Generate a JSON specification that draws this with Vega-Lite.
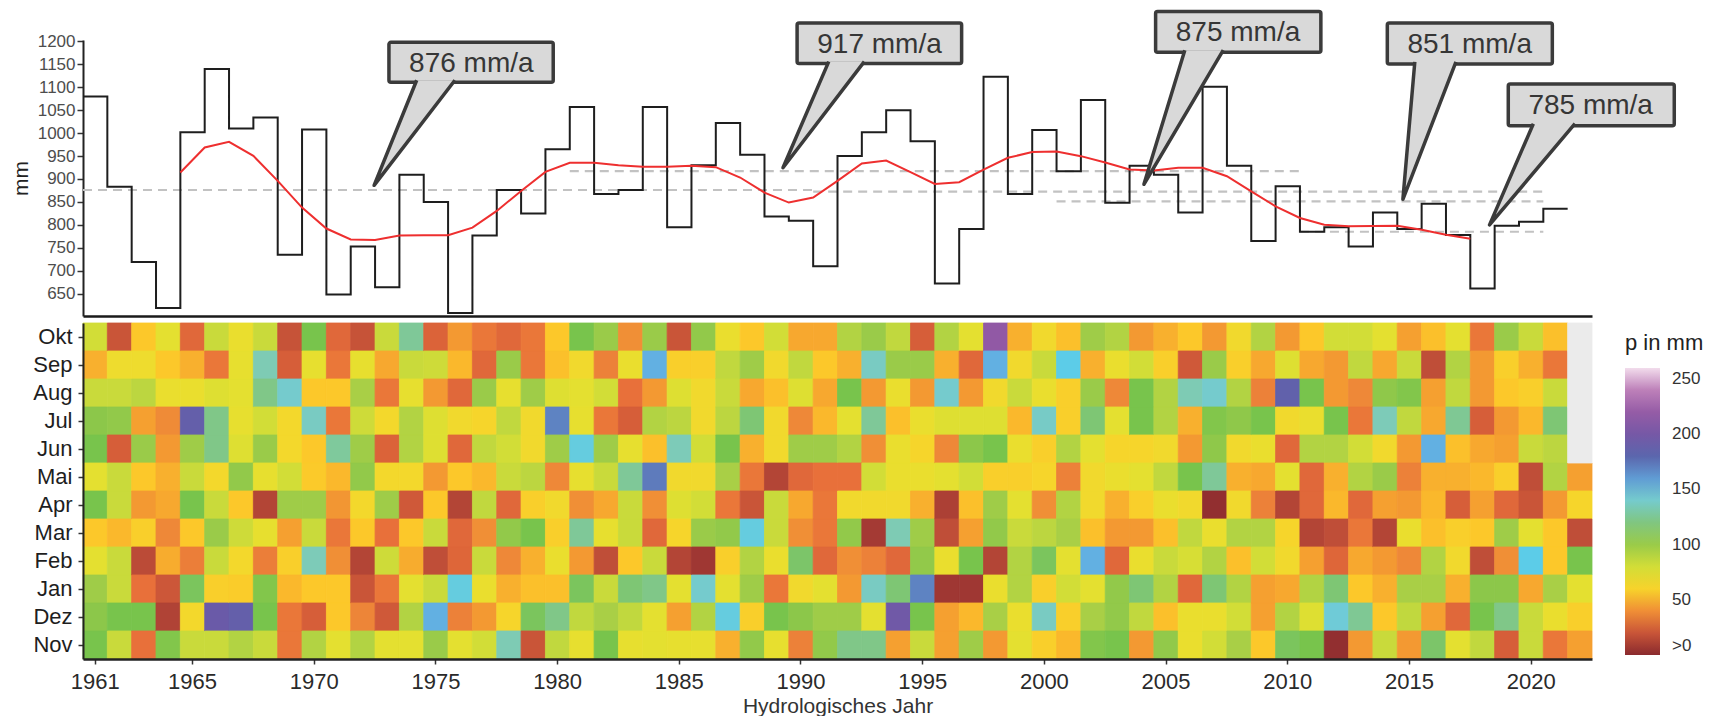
{
  "$schema": "https://vega.github.io/schema/vega-lite/v6.json",
  "background": "white",
  "padding": {"left": 10, "top": 9, "right": 5, "bottom": 0},
  "config": {
    "font": "Liberation Sans",
    "view": {"stroke": null},
    "axis": {"grid": false, "labelFont": "Liberation Sans", "titleFont": "Liberation Sans", "labelOverlap": false},
    "axisQuantitative": {"labelOverlap": false},
    "legend": {"labelFont": "Liberation Sans", "titleFont": "Liberation Sans"}
  },
  "datasets": {
    "jahr": [
      {"jahr":1961,"p":1080},{"jahr":1962,"p":883},{"jahr":1963,"p":719},{"jahr":1964,"p":619},{"jahr":1965,"p":1002},
      {"jahr":1966,"p":1140},{"jahr":1967,"p":1010},{"jahr":1968,"p":1034},{"jahr":1969,"p":735},{"jahr":1970,"p":1008},
      {"jahr":1971,"p":648},{"jahr":1972,"p":753},{"jahr":1973,"p":664},{"jahr":1974,"p":909},{"jahr":1975,"p":850},
      {"jahr":1976,"p":608},{"jahr":1977,"p":777},{"jahr":1978,"p":876},{"jahr":1979,"p":825},{"jahr":1980,"p":965},
      {"jahr":1981,"p":1057},{"jahr":1982,"p":867},{"jahr":1983,"p":876},{"jahr":1984,"p":1057},{"jahr":1985,"p":795},
      {"jahr":1986,"p":930},{"jahr":1987,"p":1022},{"jahr":1988,"p":953},{"jahr":1989,"p":818},{"jahr":1990,"p":809},
      {"jahr":1991,"p":710},{"jahr":1992,"p":950},{"jahr":1993,"p":1002},{"jahr":1994,"p":1050},{"jahr":1995,"p":982},
      {"jahr":1996,"p":672},{"jahr":1997,"p":791},{"jahr":1998,"p":1123},{"jahr":1999,"p":867},{"jahr":2000,"p":1007},
      {"jahr":2001,"p":917},{"jahr":2002,"p":1072},{"jahr":2003,"p":848},{"jahr":2004,"p":929},{"jahr":2005,"p":909},
      {"jahr":2006,"p":827},{"jahr":2007,"p":1101},{"jahr":2008,"p":929},{"jahr":2009,"p":765},{"jahr":2010,"p":884},
      {"jahr":2011,"p":785},{"jahr":2012,"p":795},{"jahr":2013,"p":753},{"jahr":2014,"p":827},{"jahr":2015,"p":791},
      {"jahr":2016,"p":846},{"jahr":2017,"p":778},{"jahr":2018,"p":661},{"jahr":2019,"p":798},{"jahr":2020,"p":807},
      {"jahr":2021,"p":835},{"jahr":2022,"p":835}
    ],
    "glatt": [
      {"jahr":1965,"p":914},{"jahr":1966,"p":968.6},{"jahr":1967,"p":981},{"jahr":1968,"p":950.5},{"jahr":1969,"p":896},
      {"jahr":1970,"p":837.7},{"jahr":1971,"p":792},{"jahr":1972,"p":768},{"jahr":1973,"p":767},{"jahr":1974,"p":776.6},
      {"jahr":1975,"p":777.3},{"jahr":1976,"p":777.3},{"jahr":1977,"p":794},{"jahr":1978,"p":830.4},{"jahr":1979,"p":874},
      {"jahr":1980,"p":915.5},{"jahr":1981,"p":935.2},{"jahr":1982,"p":935.2},{"jahr":1983,"p":930},{"jahr":1984,"p":926.5},
      {"jahr":1985,"p":926.5},{"jahr":1986,"p":928.6},{"jahr":1987,"p":925.7},{"jahr":1988,"p":903.2},{"jahr":1989,"p":870.4},
      {"jahr":1990,"p":848.6},{"jahr":1991,"p":859.5},{"jahr":1992,"p":896},{"jahr":1993,"p":933.8},{"jahr":1994,"p":940.3},
      {"jahr":1995,"p":914.8},{"jahr":1996,"p":889.3},{"jahr":1997,"p":892.9},{"jahr":1998,"p":920.6},{"jahr":1999,"p":946.2},
      {"jahr":2000,"p":958.6},{"jahr":2001,"p":960},{"jahr":2002,"p":949.8},{"jahr":2003,"p":936},{"jahr":2004,"p":920.6},
      {"jahr":2005,"p":918.5},{"jahr":2006,"p":924.3},{"jahr":2007,"p":924.3},{"jahr":2008,"p":906},{"jahr":2009,"p":873.2},
      {"jahr":2010,"p":840.4},{"jahr":2011,"p":814.9},{"jahr":2012,"p":800.3},{"jahr":2013,"p":796.7},{"jahr":2014,"p":797.4},
      {"jahr":2015,"p":798.1},{"jahr":2016,"p":789.4},{"jahr":2017,"p":778.4},{"jahr":2018,"p":769.7}
    ],
    "perioden": [
      {"von":1961,"bis":1991,"mittel":876},
      {"von":1981,"bis":2011,"mittel":917},
      {"von":1991,"bis":2021,"mittel":872.5},
      {"von":2001,"bis":2021,"mittel":851},
      {"von":2011,"bis":2021,"mittel":785}
    ],
    "boxen": [
      {"label":"876 mm/a","x1":1973.57,"x2":1980.32,"oben":1198.0,"unten":1110.9},
      {"label":"917 mm/a","x1":1990.34,"x2":1997.10,"oben":1240.2,"unten":1151.5},
      {"label":"875 mm/a","x1":2005.07,"x2":2011.86,"oben":1265.1,"unten":1176.4},
      {"label":"851 mm/a","x1":2014.59,"x2":2021.37,"oben":1240.2,"unten":1150.9},
      {"label":"785 mm/a","x1":2019.56,"x2":2026.38,"oben":1107.0,"unten":1016.2}
    ],
    "zeiger": [
      {"id":1,"k":0,"x":1974.71,"y":1115.3},{"id":1,"k":1,"x":1972.96,"y":886.2},{"id":1,"k":2,"x":1976.28,"y":1115.3},
      {"id":2,"k":0,"x":1991.64,"y":1155.9},{"id":2,"k":1,"x":1989.76,"y":924.5},{"id":2,"k":2,"x":1993.10,"y":1155.9},
      {"id":3,"k":0,"x":2006.27,"y":1180.8},{"id":3,"k":1,"x":2004.59,"y":888.4},{"id":3,"k":2,"x":2007.85,"y":1180.8},
      {"id":4,"k":0,"x":2015.72,"y":1155.2},{"id":4,"k":1,"x":2015.23,"y":855.7},{"id":4,"k":2,"x":2017.41,"y":1155.2},
      {"id":5,"k":0,"x":2020.59,"y":1020.5},{"id":5,"k":1,"x":2018.79,"y":800.0},{"id":5,"k":2,"x":2022.30,"y":1020.5}
    ],
    "fehlend": [
      {"jahr":2022,"monat":"Okt"},{"jahr":2022,"monat":"Sep"},{"jahr":2022,"monat":"Aug"},{"jahr":2022,"monat":"Jul"},{"jahr":2022,"monat":"Jun"}
    ],
    "monat": [
{"jahr":1961,"monat":"Okt","p":80},{"jahr":1961,"monat":"Sep","p":49},{"jahr":1961,"monat":"Aug","p":84},{"jahr":1961,"monat":"Jul","p":105},{"jahr":1961,"monat":"Jun","p":111},{"jahr":1961,"monat":"Mai","p":72},{"jahr":1961,"monat":"Apr","p":111},{"jahr":1961,"monat":"Mar","p":55},{"jahr":1961,"monat":"Feb","p":72},{"jahr":1961,"monat":"Jan","p":98},{"jahr":1961,"monat":"Dez","p":105},{"jahr":1961,"monat":"Nov","p":111},
{"jahr":1962,"monat":"Okt","p":20},{"jahr":1962,"monat":"Sep","p":66},{"jahr":1962,"monat":"Aug","p":84},{"jahr":1962,"monat":"Jul","p":103},{"jahr":1962,"monat":"Jun","p":24},{"jahr":1962,"monat":"Mai","p":84},{"jahr":1962,"monat":"Apr","p":84},{"jahr":1962,"monat":"Mar","p":51},{"jahr":1962,"monat":"Feb","p":84},{"jahr":1962,"monat":"Jan","p":84},{"jahr":1962,"monat":"Dez","p":111},{"jahr":1962,"monat":"Nov","p":84},
{"jahr":1963,"monat":"Okt","p":55},{"jahr":1963,"monat":"Sep","p":66},{"jahr":1963,"monat":"Aug","p":89},{"jahr":1963,"monat":"Jul","p":45},{"jahr":1963,"monat":"Jun","p":100},{"jahr":1963,"monat":"Mai","p":55},{"jahr":1963,"monat":"Apr","p":43},{"jahr":1963,"monat":"Mar","p":58},{"jahr":1963,"monat":"Feb","p":16},{"jahr":1963,"monat":"Jan","p":31},{"jahr":1963,"monat":"Dez","p":111},{"jahr":1963,"monat":"Nov","p":31},
{"jahr":1964,"monat":"Okt","p":72},{"jahr":1964,"monat":"Sep","p":55},{"jahr":1964,"monat":"Aug","p":68},{"jahr":1964,"monat":"Jul","p":39},{"jahr":1964,"monat":"Jun","p":43},{"jahr":1964,"monat":"Mai","p":49},{"jahr":1964,"monat":"Apr","p":47},{"jahr":1964,"monat":"Mar","p":38},{"jahr":1964,"monat":"Feb","p":48},{"jahr":1964,"monat":"Jan","p":21},{"jahr":1964,"monat":"Dez","p":13},{"jahr":1964,"monat":"Nov","p":108},
{"jahr":1965,"monat":"Okt","p":28},{"jahr":1965,"monat":"Sep","p":49},{"jahr":1965,"monat":"Aug","p":68},{"jahr":1965,"monat":"Jul","p":187},{"jahr":1965,"monat":"Jun","p":98},{"jahr":1965,"monat":"Mai","p":84},{"jahr":1965,"monat":"Apr","p":111},{"jahr":1965,"monat":"Mar","p":55},{"jahr":1965,"monat":"Feb","p":35},{"jahr":1965,"monat":"Jan","p":114},{"jahr":1965,"monat":"Dez","p":63},{"jahr":1965,"monat":"Nov","p":84},
{"jahr":1966,"monat":"Okt","p":84},{"jahr":1966,"monat":"Sep","p":33},{"jahr":1966,"monat":"Aug","p":75},{"jahr":1966,"monat":"Jul","p":122},{"jahr":1966,"monat":"Jun","p":122},{"jahr":1966,"monat":"Mai","p":63},{"jahr":1966,"monat":"Apr","p":84},{"jahr":1966,"monat":"Mar","p":100},{"jahr":1966,"monat":"Feb","p":84},{"jahr":1966,"monat":"Jan","p":58},{"jahr":1966,"monat":"Dez","p":192},{"jahr":1966,"monat":"Nov","p":84},
{"jahr":1967,"monat":"Okt","p":68},{"jahr":1967,"monat":"Sep","p":70},{"jahr":1967,"monat":"Aug","p":72},{"jahr":1967,"monat":"Jul","p":70},{"jahr":1967,"monat":"Jun","p":75},{"jahr":1967,"monat":"Mai","p":103},{"jahr":1967,"monat":"Apr","p":55},{"jahr":1967,"monat":"Mar","p":82},{"jahr":1967,"monat":"Feb","p":63},{"jahr":1967,"monat":"Jan","p":57},{"jahr":1967,"monat":"Dez","p":187},{"jahr":1967,"monat":"Nov","p":92},
{"jahr":1968,"monat":"Okt","p":84},{"jahr":1968,"monat":"Sep","p":133},{"jahr":1968,"monat":"Aug","p":122},{"jahr":1968,"monat":"Jul","p":80},{"jahr":1968,"monat":"Jun","p":100},{"jahr":1968,"monat":"Mai","p":70},{"jahr":1968,"monat":"Apr","p":14},{"jahr":1968,"monat":"Mar","p":70},{"jahr":1968,"monat":"Feb","p":35},{"jahr":1968,"monat":"Jan","p":108},{"jahr":1968,"monat":"Dez","p":111},{"jahr":1968,"monat":"Nov","p":84},
{"jahr":1969,"monat":"Okt","p":19},{"jahr":1969,"monat":"Sep","p":24},{"jahr":1969,"monat":"Aug","p":140},{"jahr":1969,"monat":"Jul","p":63},{"jahr":1969,"monat":"Jun","p":63},{"jahr":1969,"monat":"Mai","p":80},{"jahr":1969,"monat":"Apr","p":98},{"jahr":1969,"monat":"Mar","p":45},{"jahr":1969,"monat":"Feb","p":58},{"jahr":1969,"monat":"Jan","p":51},{"jahr":1969,"monat":"Dez","p":33},{"jahr":1969,"monat":"Nov","p":33},
{"jahr":1970,"monat":"Okt","p":111},{"jahr":1970,"monat":"Sep","p":70},{"jahr":1970,"monat":"Aug","p":55},{"jahr":1970,"monat":"Jul","p":137},{"jahr":1970,"monat":"Jun","p":55},{"jahr":1970,"monat":"Mai","p":56},{"jahr":1970,"monat":"Apr","p":98},{"jahr":1970,"monat":"Mar","p":84},{"jahr":1970,"monat":"Feb","p":134},{"jahr":1970,"monat":"Jan","p":55},{"jahr":1970,"monat":"Dez","p":24},{"jahr":1970,"monat":"Nov","p":92},
{"jahr":1971,"monat":"Okt","p":28},{"jahr":1971,"monat":"Sep","p":33},{"jahr":1971,"monat":"Aug","p":55},{"jahr":1971,"monat":"Jul","p":33},{"jahr":1971,"monat":"Jun","p":127},{"jahr":1971,"monat":"Mai","p":51},{"jahr":1971,"monat":"Apr","p":42},{"jahr":1971,"monat":"Mar","p":33},{"jahr":1971,"monat":"Feb","p":40},{"jahr":1971,"monat":"Jan","p":55},{"jahr":1971,"monat":"Dez","p":55},{"jahr":1971,"monat":"Nov","p":72},
{"jahr":1972,"monat":"Okt","p":19},{"jahr":1972,"monat":"Sep","p":70},{"jahr":1972,"monat":"Aug","p":95},{"jahr":1972,"monat":"Jul","p":82},{"jahr":1972,"monat":"Jun","p":98},{"jahr":1972,"monat":"Mai","p":103},{"jahr":1972,"monat":"Apr","p":63},{"jahr":1972,"monat":"Mar","p":55},{"jahr":1972,"monat":"Feb","p":14},{"jahr":1972,"monat":"Jan","p":20},{"jahr":1972,"monat":"Dez","p":37},{"jahr":1972,"monat":"Nov","p":92},
{"jahr":1973,"monat":"Okt","p":84},{"jahr":1973,"monat":"Sep","p":47},{"jahr":1973,"monat":"Aug","p":33},{"jahr":1973,"monat":"Jul","p":63},{"jahr":1973,"monat":"Jun","p":26},{"jahr":1973,"monat":"Mai","p":63},{"jahr":1973,"monat":"Apr","p":98},{"jahr":1973,"monat":"Mar","p":31},{"jahr":1973,"monat":"Feb","p":82},{"jahr":1973,"monat":"Jan","p":33},{"jahr":1973,"monat":"Dez","p":22},{"jahr":1973,"monat":"Nov","p":72},
{"jahr":1974,"monat":"Okt","p":126},{"jahr":1974,"monat":"Sep","p":84},{"jahr":1974,"monat":"Aug","p":70},{"jahr":1974,"monat":"Jul","p":92},{"jahr":1974,"monat":"Jun","p":92},{"jahr":1974,"monat":"Mai","p":63},{"jahr":1974,"monat":"Apr","p":22},{"jahr":1974,"monat":"Mar","p":55},{"jahr":1974,"monat":"Feb","p":48},{"jahr":1974,"monat":"Jan","p":72},{"jahr":1974,"monat":"Dez","p":92},{"jahr":1974,"monat":"Nov","p":72},
{"jahr":1975,"monat":"Okt","p":26},{"jahr":1975,"monat":"Sep","p":82},{"jahr":1975,"monat":"Aug","p":43},{"jahr":1975,"monat":"Jul","p":75},{"jahr":1975,"monat":"Jun","p":75},{"jahr":1975,"monat":"Mai","p":43},{"jahr":1975,"monat":"Apr","p":55},{"jahr":1975,"monat":"Mar","p":84},{"jahr":1975,"monat":"Feb","p":17},{"jahr":1975,"monat":"Jan","p":84},{"jahr":1975,"monat":"Dez","p":156},{"jahr":1975,"monat":"Nov","p":100},
{"jahr":1976,"monat":"Okt","p":43},{"jahr":1976,"monat":"Sep","p":51},{"jahr":1976,"monat":"Aug","p":28},{"jahr":1976,"monat":"Jul","p":64},{"jahr":1976,"monat":"Jun","p":28},{"jahr":1976,"monat":"Mai","p":55},{"jahr":1976,"monat":"Apr","p":14},{"jahr":1976,"monat":"Mar","p":28},{"jahr":1976,"monat":"Feb","p":27},{"jahr":1976,"monat":"Jan","p":146},{"jahr":1976,"monat":"Dez","p":36},{"jahr":1976,"monat":"Nov","p":72},
{"jahr":1977,"monat":"Okt","p":33},{"jahr":1977,"monat":"Sep","p":28},{"jahr":1977,"monat":"Aug","p":100},{"jahr":1977,"monat":"Jul","p":61},{"jahr":1977,"monat":"Jun","p":87},{"jahr":1977,"monat":"Mai","p":51},{"jahr":1977,"monat":"Apr","p":87},{"jahr":1977,"monat":"Mar","p":40},{"jahr":1977,"monat":"Feb","p":84},{"jahr":1977,"monat":"Jan","p":68},{"jahr":1977,"monat":"Dez","p":43},{"jahr":1977,"monat":"Nov","p":80},
{"jahr":1978,"monat":"Okt","p":28},{"jahr":1978,"monat":"Sep","p":100},{"jahr":1978,"monat":"Aug","p":70},{"jahr":1978,"monat":"Jul","p":87},{"jahr":1978,"monat":"Jun","p":80},{"jahr":1978,"monat":"Mai","p":84},{"jahr":1978,"monat":"Apr","p":28},{"jahr":1978,"monat":"Mar","p":103},{"jahr":1978,"monat":"Feb","p":38},{"jahr":1978,"monat":"Jan","p":49},{"jahr":1978,"monat":"Dez","p":61},{"jahr":1978,"monat":"Nov","p":133},
{"jahr":1979,"monat":"Okt","p":33},{"jahr":1979,"monat":"Sep","p":33},{"jahr":1979,"monat":"Aug","p":98},{"jahr":1979,"monat":"Jul","p":64},{"jahr":1979,"monat":"Jun","p":64},{"jahr":1979,"monat":"Mai","p":89},{"jahr":1979,"monat":"Apr","p":58},{"jahr":1979,"monat":"Mar","p":111},{"jahr":1979,"monat":"Feb","p":49},{"jahr":1979,"monat":"Jan","p":53},{"jahr":1979,"monat":"Dez","p":114},{"jahr":1979,"monat":"Nov","p":20},
{"jahr":1980,"monat":"Okt","p":55},{"jahr":1980,"monat":"Sep","p":53},{"jahr":1980,"monat":"Aug","p":75},{"jahr":1980,"monat":"Jul","p":165},{"jahr":1980,"monat":"Jun","p":98},{"jahr":1980,"monat":"Mai","p":38},{"jahr":1980,"monat":"Apr","p":64},{"jahr":1980,"monat":"Mar","p":58},{"jahr":1980,"monat":"Feb","p":68},{"jahr":1980,"monat":"Jan","p":53},{"jahr":1980,"monat":"Dez","p":122},{"jahr":1980,"monat":"Nov","p":87},
{"jahr":1981,"monat":"Okt","p":111},{"jahr":1981,"monat":"Sep","p":64},{"jahr":1981,"monat":"Aug","p":72},{"jahr":1981,"monat":"Jul","p":70},{"jahr":1981,"monat":"Jun","p":146},{"jahr":1981,"monat":"Mai","p":70},{"jahr":1981,"monat":"Apr","p":40},{"jahr":1981,"monat":"Mar","p":126},{"jahr":1981,"monat":"Feb","p":43},{"jahr":1981,"monat":"Jan","p":114},{"jahr":1981,"monat":"Dez","p":87},{"jahr":1981,"monat":"Nov","p":70},
{"jahr":1982,"monat":"Okt","p":100},{"jahr":1982,"monat":"Sep","p":36},{"jahr":1982,"monat":"Aug","p":80},{"jahr":1982,"monat":"Jul","p":33},{"jahr":1982,"monat":"Jun","p":98},{"jahr":1982,"monat":"Mai","p":84},{"jahr":1982,"monat":"Apr","p":47},{"jahr":1982,"monat":"Mar","p":70},{"jahr":1982,"monat":"Feb","p":17},{"jahr":1982,"monat":"Jan","p":84},{"jahr":1982,"monat":"Dez","p":95},{"jahr":1982,"monat":"Nov","p":111},
{"jahr":1983,"monat":"Okt","p":40},{"jahr":1983,"monat":"Sep","p":68},{"jahr":1983,"monat":"Aug","p":31},{"jahr":1983,"monat":"Jul","p":24},{"jahr":1983,"monat":"Jun","p":70},{"jahr":1983,"monat":"Mai","p":126},{"jahr":1983,"monat":"Apr","p":84},{"jahr":1983,"monat":"Mar","p":84},{"jahr":1983,"monat":"Feb","p":55},{"jahr":1983,"monat":"Jan","p":118},{"jahr":1983,"monat":"Dez","p":87},{"jahr":1983,"monat":"Nov","p":70},
{"jahr":1984,"monat":"Okt","p":100},{"jahr":1984,"monat":"Sep","p":156},{"jahr":1984,"monat":"Aug","p":43},{"jahr":1984,"monat":"Jul","p":92},{"jahr":1984,"monat":"Jun","p":53},{"jahr":1984,"monat":"Mai","p":168},{"jahr":1984,"monat":"Apr","p":40},{"jahr":1984,"monat":"Mar","p":28},{"jahr":1984,"monat":"Feb","p":84},{"jahr":1984,"monat":"Jan","p":122},{"jahr":1984,"monat":"Dez","p":72},{"jahr":1984,"monat":"Nov","p":72},
{"jahr":1985,"monat":"Okt","p":20},{"jahr":1985,"monat":"Sep","p":58},{"jahr":1985,"monat":"Aug","p":75},{"jahr":1985,"monat":"Jul","p":89},{"jahr":1985,"monat":"Jun","p":134},{"jahr":1985,"monat":"Mai","p":64},{"jahr":1985,"monat":"Apr","p":75},{"jahr":1985,"monat":"Mar","p":61},{"jahr":1985,"monat":"Feb","p":14},{"jahr":1985,"monat":"Jan","p":72},{"jahr":1985,"monat":"Dez","p":45},{"jahr":1985,"monat":"Nov","p":70},
{"jahr":1986,"monat":"Okt","p":103},{"jahr":1986,"monat":"Sep","p":58},{"jahr":1986,"monat":"Aug","p":64},{"jahr":1986,"monat":"Jul","p":64},{"jahr":1986,"monat":"Jun","p":80},{"jahr":1986,"monat":"Mai","p":64},{"jahr":1986,"monat":"Apr","p":80},{"jahr":1986,"monat":"Mar","p":100},{"jahr":1986,"monat":"Feb","p":8},{"jahr":1986,"monat":"Jan","p":140},{"jahr":1986,"monat":"Dez","p":92},{"jahr":1986,"monat":"Nov","p":70},
{"jahr":1987,"monat":"Okt","p":68},{"jahr":1987,"monat":"Sep","p":87},{"jahr":1987,"monat":"Aug","p":84},{"jahr":1987,"monat":"Jul","p":89},{"jahr":1987,"monat":"Jun","p":111},{"jahr":1987,"monat":"Mai","p":95},{"jahr":1987,"monat":"Apr","p":33},{"jahr":1987,"monat":"Mar","p":103},{"jahr":1987,"monat":"Feb","p":58},{"jahr":1987,"monat":"Jan","p":72},{"jahr":1987,"monat":"Dez","p":146},{"jahr":1987,"monat":"Nov","p":49},
{"jahr":1988,"monat":"Okt","p":55},{"jahr":1988,"monat":"Sep","p":98},{"jahr":1988,"monat":"Aug","p":47},{"jahr":1988,"monat":"Jul","p":118},{"jahr":1988,"monat":"Jun","p":49},{"jahr":1988,"monat":"Mai","p":33},{"jahr":1988,"monat":"Apr","p":20},{"jahr":1988,"monat":"Mar","p":146},{"jahr":1988,"monat":"Feb","p":92},{"jahr":1988,"monat":"Jan","p":98},{"jahr":1988,"monat":"Dez","p":58},{"jahr":1988,"monat":"Nov","p":103},
{"jahr":1989,"monat":"Okt","p":80},{"jahr":1989,"monat":"Sep","p":64},{"jahr":1989,"monat":"Aug","p":53},{"jahr":1989,"monat":"Jul","p":64},{"jahr":1989,"monat":"Jun","p":64},{"jahr":1989,"monat":"Mai","p":14},{"jahr":1989,"monat":"Apr","p":84},{"jahr":1989,"monat":"Mar","p":84},{"jahr":1989,"monat":"Feb","p":68},{"jahr":1989,"monat":"Jan","p":33},{"jahr":1989,"monat":"Dez","p":111},{"jahr":1989,"monat":"Nov","p":70},
{"jahr":1990,"monat":"Okt","p":47},{"jahr":1990,"monat":"Sep","p":87},{"jahr":1990,"monat":"Aug","p":75},{"jahr":1990,"monat":"Jul","p":38},{"jahr":1990,"monat":"Jun","p":98},{"jahr":1990,"monat":"Mai","p":28},{"jahr":1990,"monat":"Apr","p":47},{"jahr":1990,"monat":"Mar","p":40},{"jahr":1990,"monat":"Feb","p":116},{"jahr":1990,"monat":"Jan","p":64},{"jahr":1990,"monat":"Dez","p":105},{"jahr":1990,"monat":"Nov","p":36},
{"jahr":1991,"monat":"Okt","p":47},{"jahr":1991,"monat":"Sep","p":55},{"jahr":1991,"monat":"Aug","p":47},{"jahr":1991,"monat":"Jul","p":51},{"jahr":1991,"monat":"Jun","p":98},{"jahr":1991,"monat":"Mai","p":31},{"jahr":1991,"monat":"Apr","p":33},{"jahr":1991,"monat":"Mar","p":33},{"jahr":1991,"monat":"Feb","p":28},{"jahr":1991,"monat":"Jan","p":72},{"jahr":1991,"monat":"Dez","p":98},{"jahr":1991,"monat":"Nov","p":103},
{"jahr":1992,"monat":"Okt","p":92},{"jahr":1992,"monat":"Sep","p":49},{"jahr":1992,"monat":"Aug","p":111},{"jahr":1992,"monat":"Jul","p":72},{"jahr":1992,"monat":"Jun","p":92},{"jahr":1992,"monat":"Mai","p":31},{"jahr":1992,"monat":"Apr","p":64},{"jahr":1992,"monat":"Mar","p":103},{"jahr":1992,"monat":"Feb","p":40},{"jahr":1992,"monat":"Jan","p":43},{"jahr":1992,"monat":"Dez","p":98},{"jahr":1992,"monat":"Nov","p":122},
{"jahr":1993,"monat":"Okt","p":100},{"jahr":1993,"monat":"Sep","p":137},{"jahr":1993,"monat":"Aug","p":43},{"jahr":1993,"monat":"Jul","p":126},{"jahr":1993,"monat":"Jun","p":40},{"jahr":1993,"monat":"Mai","p":80},{"jahr":1993,"monat":"Apr","p":64},{"jahr":1993,"monat":"Mar","p":10},{"jahr":1993,"monat":"Feb","p":36},{"jahr":1993,"monat":"Jan","p":137},{"jahr":1993,"monat":"Dez","p":72},{"jahr":1993,"monat":"Nov","p":122},
{"jahr":1994,"monat":"Okt","p":87},{"jahr":1994,"monat":"Sep","p":100},{"jahr":1994,"monat":"Aug","p":68},{"jahr":1994,"monat":"Jul","p":53},{"jahr":1994,"monat":"Jun","p":68},{"jahr":1994,"monat":"Mai","p":68},{"jahr":1994,"monat":"Apr","p":64},{"jahr":1994,"monat":"Mar","p":133},{"jahr":1994,"monat":"Feb","p":28},{"jahr":1994,"monat":"Jan","p":118},{"jahr":1994,"monat":"Dez","p":196},{"jahr":1994,"monat":"Nov","p":45},
{"jahr":1995,"monat":"Okt","p":24},{"jahr":1995,"monat":"Sep","p":100},{"jahr":1995,"monat":"Aug","p":43},{"jahr":1995,"monat":"Jul","p":68},{"jahr":1995,"monat":"Jun","p":61},{"jahr":1995,"monat":"Mai","p":68},{"jahr":1995,"monat":"Apr","p":49},{"jahr":1995,"monat":"Mar","p":98},{"jahr":1995,"monat":"Feb","p":103},{"jahr":1995,"monat":"Jan","p":165},{"jahr":1995,"monat":"Dez","p":111},{"jahr":1995,"monat":"Nov","p":84},
{"jahr":1996,"monat":"Okt","p":92},{"jahr":1996,"monat":"Sep","p":49},{"jahr":1996,"monat":"Aug","p":140},{"jahr":1996,"monat":"Jul","p":75},{"jahr":1996,"monat":"Jun","p":38},{"jahr":1996,"monat":"Mai","p":72},{"jahr":1996,"monat":"Apr","p":12},{"jahr":1996,"monat":"Mar","p":17},{"jahr":1996,"monat":"Feb","p":68},{"jahr":1996,"monat":"Jan","p":8},{"jahr":1996,"monat":"Dez","p":45},{"jahr":1996,"monat":"Nov","p":45},
{"jahr":1997,"monat":"Okt","p":72},{"jahr":1997,"monat":"Sep","p":28},{"jahr":1997,"monat":"Aug","p":43},{"jahr":1997,"monat":"Jul","p":75},{"jahr":1997,"monat":"Jun","p":105},{"jahr":1997,"monat":"Mai","p":80},{"jahr":1997,"monat":"Apr","p":53},{"jahr":1997,"monat":"Mar","p":45},{"jahr":1997,"monat":"Feb","p":111},{"jahr":1997,"monat":"Jan","p":8},{"jahr":1997,"monat":"Dez","p":51},{"jahr":1997,"monat":"Nov","p":98},
{"jahr":1998,"monat":"Okt","p":218},{"jahr":1998,"monat":"Sep","p":156},{"jahr":1998,"monat":"Aug","p":64},{"jahr":1998,"monat":"Jul","p":75},{"jahr":1998,"monat":"Jun","p":111},{"jahr":1998,"monat":"Mai","p":58},{"jahr":1998,"monat":"Apr","p":98},{"jahr":1998,"monat":"Mar","p":103},{"jahr":1998,"monat":"Feb","p":14},{"jahr":1998,"monat":"Jan","p":68},{"jahr":1998,"monat":"Dez","p":95},{"jahr":1998,"monat":"Nov","p":43},
{"jahr":1999,"monat":"Okt","p":49},{"jahr":1999,"monat":"Sep","p":64},{"jahr":1999,"monat":"Aug","p":84},{"jahr":1999,"monat":"Jul","p":51},{"jahr":1999,"monat":"Jun","p":68},{"jahr":1999,"monat":"Mai","p":58},{"jahr":1999,"monat":"Apr","p":72},{"jahr":1999,"monat":"Mar","p":84},{"jahr":1999,"monat":"Feb","p":92},{"jahr":1999,"monat":"Jan","p":92},{"jahr":1999,"monat":"Dez","p":68},{"jahr":1999,"monat":"Nov","p":72},
{"jahr":2000,"monat":"Okt","p":64},{"jahr":2000,"monat":"Sep","p":84},{"jahr":2000,"monat":"Aug","p":68},{"jahr":2000,"monat":"Jul","p":138},{"jahr":2000,"monat":"Jun","p":58},{"jahr":2000,"monat":"Mai","p":61},{"jahr":2000,"monat":"Apr","p":40},{"jahr":2000,"monat":"Mar","p":89},{"jahr":2000,"monat":"Feb","p":114},{"jahr":2000,"monat":"Jan","p":58},{"jahr":2000,"monat":"Dez","p":137},{"jahr":2000,"monat":"Nov","p":58},
{"jahr":2001,"monat":"Okt","p":53},{"jahr":2001,"monat":"Sep","p":149},{"jahr":2001,"monat":"Aug","p":58},{"jahr":2001,"monat":"Jul","p":58},{"jahr":2001,"monat":"Jun","p":92},{"jahr":2001,"monat":"Mai","p":36},{"jahr":2001,"monat":"Apr","p":92},{"jahr":2001,"monat":"Mar","p":95},{"jahr":2001,"monat":"Feb","p":72},{"jahr":2001,"monat":"Jan","p":80},{"jahr":2001,"monat":"Dez","p":58},{"jahr":2001,"monat":"Nov","p":51},
{"jahr":2002,"monat":"Okt","p":98},{"jahr":2002,"monat":"Sep","p":49},{"jahr":2002,"monat":"Aug","p":100},{"jahr":2002,"monat":"Jul","p":118},{"jahr":2002,"monat":"Jun","p":72},{"jahr":2002,"monat":"Mai","p":64},{"jahr":2002,"monat":"Apr","p":64},{"jahr":2002,"monat":"Mar","p":53},{"jahr":2002,"monat":"Feb","p":156},{"jahr":2002,"monat":"Jan","p":72},{"jahr":2002,"monat":"Dez","p":95},{"jahr":2002,"monat":"Nov","p":108},
{"jahr":2003,"monat":"Okt","p":92},{"jahr":2003,"monat":"Sep","p":68},{"jahr":2003,"monat":"Aug","p":38},{"jahr":2003,"monat":"Jul","p":72},{"jahr":2003,"monat":"Jun","p":61},{"jahr":2003,"monat":"Mai","p":68},{"jahr":2003,"monat":"Apr","p":49},{"jahr":2003,"monat":"Mar","p":43},{"jahr":2003,"monat":"Feb","p":28},{"jahr":2003,"monat":"Jan","p":103},{"jahr":2003,"monat":"Dez","p":103},{"jahr":2003,"monat":"Nov","p":111},
{"jahr":2004,"monat":"Okt","p":43},{"jahr":2004,"monat":"Sep","p":80},{"jahr":2004,"monat":"Aug","p":111},{"jahr":2004,"monat":"Jul","p":111},{"jahr":2004,"monat":"Jun","p":61},{"jahr":2004,"monat":"Mai","p":72},{"jahr":2004,"monat":"Apr","p":58},{"jahr":2004,"monat":"Mar","p":43},{"jahr":2004,"monat":"Feb","p":68},{"jahr":2004,"monat":"Jan","p":118},{"jahr":2004,"monat":"Dez","p":87},{"jahr":2004,"monat":"Nov","p":43},
{"jahr":2005,"monat":"Okt","p":49},{"jahr":2005,"monat":"Sep","p":58},{"jahr":2005,"monat":"Aug","p":92},{"jahr":2005,"monat":"Jul","p":92},{"jahr":2005,"monat":"Jun","p":64},{"jahr":2005,"monat":"Mai","p":87},{"jahr":2005,"monat":"Apr","p":68},{"jahr":2005,"monat":"Mar","p":53},{"jahr":2005,"monat":"Feb","p":84},{"jahr":2005,"monat":"Jan","p":92},{"jahr":2005,"monat":"Dez","p":53},{"jahr":2005,"monat":"Nov","p":103},
{"jahr":2006,"monat":"Okt","p":55},{"jahr":2006,"monat":"Sep","p":22},{"jahr":2006,"monat":"Aug","p":133},{"jahr":2006,"monat":"Jul","p":49},{"jahr":2006,"monat":"Jun","p":43},{"jahr":2006,"monat":"Mai","p":111},{"jahr":2006,"monat":"Apr","p":64},{"jahr":2006,"monat":"Mar","p":87},{"jahr":2006,"monat":"Feb","p":78},{"jahr":2006,"monat":"Jan","p":28},{"jahr":2006,"monat":"Dez","p":68},{"jahr":2006,"monat":"Nov","p":68},
{"jahr":2007,"monat":"Okt","p":43},{"jahr":2007,"monat":"Sep","p":100},{"jahr":2007,"monat":"Aug","p":140},{"jahr":2007,"monat":"Jul","p":108},{"jahr":2007,"monat":"Jun","p":104},{"jahr":2007,"monat":"Mai","p":126},{"jahr":2007,"monat":"Apr","p":3},{"jahr":2007,"monat":"Mar","p":68},{"jahr":2007,"monat":"Feb","p":92},{"jahr":2007,"monat":"Jan","p":118},{"jahr":2007,"monat":"Dez","p":68},{"jahr":2007,"monat":"Nov","p":80},
{"jahr":2008,"monat":"Okt","p":64},{"jahr":2008,"monat":"Sep","p":58},{"jahr":2008,"monat":"Aug","p":92},{"jahr":2008,"monat":"Jul","p":104},{"jahr":2008,"monat":"Jun","p":64},{"jahr":2008,"monat":"Mai","p":49},{"jahr":2008,"monat":"Apr","p":64},{"jahr":2008,"monat":"Mar","p":92},{"jahr":2008,"monat":"Feb","p":53},{"jahr":2008,"monat":"Jan","p":92},{"jahr":2008,"monat":"Dez","p":80},{"jahr":2008,"monat":"Nov","p":95},
{"jahr":2009,"monat":"Okt","p":92},{"jahr":2009,"monat":"Sep","p":47},{"jahr":2009,"monat":"Aug","p":36},{"jahr":2009,"monat":"Jul","p":111},{"jahr":2009,"monat":"Jun","p":68},{"jahr":2009,"monat":"Mai","p":47},{"jahr":2009,"monat":"Apr","p":36},{"jahr":2009,"monat":"Mar","p":92},{"jahr":2009,"monat":"Feb","p":80},{"jahr":2009,"monat":"Jan","p":45},{"jahr":2009,"monat":"Dez","p":45},{"jahr":2009,"monat":"Nov","p":55},
{"jahr":2010,"monat":"Okt","p":43},{"jahr":2010,"monat":"Sep","p":75},{"jahr":2010,"monat":"Aug","p":185},{"jahr":2010,"monat":"Jul","p":64},{"jahr":2010,"monat":"Jun","p":28},{"jahr":2010,"monat":"Mai","p":72},{"jahr":2010,"monat":"Apr","p":14},{"jahr":2010,"monat":"Mar","p":61},{"jahr":2010,"monat":"Feb","p":64},{"jahr":2010,"monat":"Jan","p":47},{"jahr":2010,"monat":"Dez","p":92},{"jahr":2010,"monat":"Nov","p":114},
{"jahr":2011,"monat":"Okt","p":55},{"jahr":2011,"monat":"Sep","p":47},{"jahr":2011,"monat":"Aug","p":111},{"jahr":2011,"monat":"Jul","p":68},{"jahr":2011,"monat":"Jun","p":92},{"jahr":2011,"monat":"Mai","p":28},{"jahr":2011,"monat":"Apr","p":28},{"jahr":2011,"monat":"Mar","p":14},{"jahr":2011,"monat":"Feb","p":45},{"jahr":2011,"monat":"Jan","p":92},{"jahr":2011,"monat":"Dez","p":75},{"jahr":2011,"monat":"Nov","p":111},
{"jahr":2012,"monat":"Okt","p":80},{"jahr":2012,"monat":"Sep","p":43},{"jahr":2012,"monat":"Aug","p":43},{"jahr":2012,"monat":"Jul","p":111},{"jahr":2012,"monat":"Jun","p":92},{"jahr":2012,"monat":"Mai","p":49},{"jahr":2012,"monat":"Apr","p":51},{"jahr":2012,"monat":"Mar","p":17},{"jahr":2012,"monat":"Feb","p":27},{"jahr":2012,"monat":"Jan","p":118},{"jahr":2012,"monat":"Dez","p":143},{"jahr":2012,"monat":"Nov","p":3},
{"jahr":2013,"monat":"Okt","p":80},{"jahr":2013,"monat":"Sep","p":87},{"jahr":2013,"monat":"Aug","p":38},{"jahr":2013,"monat":"Jul","p":33},{"jahr":2013,"monat":"Jun","p":80},{"jahr":2013,"monat":"Mai","p":92},{"jahr":2013,"monat":"Apr","p":28},{"jahr":2013,"monat":"Mar","p":33},{"jahr":2013,"monat":"Feb","p":47},{"jahr":2013,"monat":"Jan","p":55},{"jahr":2013,"monat":"Dez","p":125},{"jahr":2013,"monat":"Nov","p":43},
{"jahr":2014,"monat":"Okt","p":72},{"jahr":2014,"monat":"Sep","p":47},{"jahr":2014,"monat":"Aug","p":104},{"jahr":2014,"monat":"Jul","p":134},{"jahr":2014,"monat":"Jun","p":64},{"jahr":2014,"monat":"Mai","p":100},{"jahr":2014,"monat":"Apr","p":45},{"jahr":2014,"monat":"Mar","p":14},{"jahr":2014,"monat":"Feb","p":43},{"jahr":2014,"monat":"Jan","p":49},{"jahr":2014,"monat":"Dez","p":55},{"jahr":2014,"monat":"Nov","p":84},
{"jahr":2015,"monat":"Okt","p":45},{"jahr":2015,"monat":"Sep","p":84},{"jahr":2015,"monat":"Aug","p":108},{"jahr":2015,"monat":"Jul","p":87},{"jahr":2015,"monat":"Jun","p":43},{"jahr":2015,"monat":"Mai","p":36},{"jahr":2015,"monat":"Apr","p":43},{"jahr":2015,"monat":"Mar","p":68},{"jahr":2015,"monat":"Feb","p":38},{"jahr":2015,"monat":"Jan","p":95},{"jahr":2015,"monat":"Dez","p":87},{"jahr":2015,"monat":"Nov","p":43},
{"jahr":2016,"monat":"Okt","p":53},{"jahr":2016,"monat":"Sep","p":17},{"jahr":2016,"monat":"Aug","p":45},{"jahr":2016,"monat":"Jul","p":47},{"jahr":2016,"monat":"Jun","p":156},{"jahr":2016,"monat":"Mai","p":49},{"jahr":2016,"monat":"Apr","p":51},{"jahr":2016,"monat":"Mar","p":53},{"jahr":2016,"monat":"Feb","p":92},{"jahr":2016,"monat":"Jan","p":95},{"jahr":2016,"monat":"Dez","p":45},{"jahr":2016,"monat":"Nov","p":116},
{"jahr":2017,"monat":"Okt","p":72},{"jahr":2017,"monat":"Sep","p":92},{"jahr":2017,"monat":"Aug","p":87},{"jahr":2017,"monat":"Jul","p":125},{"jahr":2017,"monat":"Jun","p":53},{"jahr":2017,"monat":"Mai","p":49},{"jahr":2017,"monat":"Apr","p":24},{"jahr":2017,"monat":"Mar","p":58},{"jahr":2017,"monat":"Feb","p":64},{"jahr":2017,"monat":"Jan","p":49},{"jahr":2017,"monat":"Dez","p":28},{"jahr":2017,"monat":"Nov","p":72},
{"jahr":2018,"monat":"Okt","p":33},{"jahr":2018,"monat":"Sep","p":43},{"jahr":2018,"monat":"Aug","p":43},{"jahr":2018,"monat":"Jul","p":24},{"jahr":2018,"monat":"Jun","p":47},{"jahr":2018,"monat":"Mai","p":51},{"jahr":2018,"monat":"Apr","p":45},{"jahr":2018,"monat":"Mar","p":55},{"jahr":2018,"monat":"Feb","p":17},{"jahr":2018,"monat":"Jan","p":105},{"jahr":2018,"monat":"Dez","p":111},{"jahr":2018,"monat":"Nov","p":87},
{"jahr":2019,"monat":"Okt","p":100},{"jahr":2019,"monat":"Sep","p":58},{"jahr":2019,"monat":"Aug","p":55},{"jahr":2019,"monat":"Jul","p":43},{"jahr":2019,"monat":"Jun","p":45},{"jahr":2019,"monat":"Mai","p":58},{"jahr":2019,"monat":"Apr","p":28},{"jahr":2019,"monat":"Mar","p":98},{"jahr":2019,"monat":"Feb","p":40},{"jahr":2019,"monat":"Jan","p":105},{"jahr":2019,"monat":"Dez","p":122},{"jahr":2019,"monat":"Nov","p":24},
{"jahr":2020,"monat":"Okt","p":84},{"jahr":2020,"monat":"Sep","p":49},{"jahr":2020,"monat":"Aug","p":58},{"jahr":2020,"monat":"Jul","p":51},{"jahr":2020,"monat":"Jun","p":84},{"jahr":2020,"monat":"Mai","p":17},{"jahr":2020,"monat":"Apr","p":20},{"jahr":2020,"monat":"Mar","p":72},{"jahr":2020,"monat":"Feb","p":149},{"jahr":2020,"monat":"Jan","p":47},{"jahr":2020,"monat":"Dez","p":84},{"jahr":2020,"monat":"Nov","p":84},
{"jahr":2021,"monat":"Okt","p":53},{"jahr":2021,"monat":"Sep","p":33},{"jahr":2021,"monat":"Aug","p":84},{"jahr":2021,"monat":"Jul","p":118},{"jahr":2021,"monat":"Jun","p":89},{"jahr":2021,"monat":"Mai","p":92},{"jahr":2021,"monat":"Apr","p":43},{"jahr":2021,"monat":"Mar","p":55},{"jahr":2021,"monat":"Feb","p":55},{"jahr":2021,"monat":"Jan","p":95},{"jahr":2021,"monat":"Dez","p":68},{"jahr":2021,"monat":"Nov","p":33},
{"jahr":2022,"monat":"Mai","p":45},{"jahr":2022,"monat":"Apr","p":61},{"jahr":2022,"monat":"Mar","p":17},{"jahr":2022,"monat":"Feb","p":111},{"jahr":2022,"monat":"Jan","p":72},{"jahr":2022,"monat":"Dez","p":58},{"jahr":2022,"monat":"Nov","p":45}
    ]
  },
  "resolve": {"scale": {"x": "independent", "y": "independent", "color": "independent"}},
  "spacing": 5,
  "vconcat": [
    {
      "width": 1509,
      "height": 276,
      "layer": [
        {
          "data": {"name": "perioden"},
          "mark": {"type": "rule", "strokeDash": [9, 6], "strokeWidth": 2.2, "color": "#c2c2c2"},
          "encoding": {
            "x": {"field": "von", "type": "quantitative", "scale": {"domain": [1961, 2023], "nice": false, "zero": false},
                  "axis": {"title": null, "labels": false, "ticks": false, "domain": true, "domainColor": "#1a1a1a", "domainWidth": 2.5, "grid": false}},
            "x2": {"field": "bis"},
            "y": {"field": "mittel", "type": "quantitative", "scale": {"domain": [601.3, 1203], "nice": false, "zero": false},
                  "axis": {"title": "mm", "values": [650, 700, 750, 800, 850, 900, 950, 1000, 1050, 1100, 1150, 1200],
                           "format": "d", "labelOverlap": false, "labelSeparation": 0, "tickCount": 12,
                           "tickSize": 6, "tickColor": "#333333", "tickWidth": 1.5, "labelPadding": 2, "labelFontSize": 17, "labelColor": "#4d4d4d",
                           "domainColor": "#222222", "domainWidth": 2, "grid": false,
                           "titleFontSize": 21, "titleFontWeight": "normal", "titleColor": "#222222", "titlePadding": 6}}
          }
        },
        {
          "data": {"name": "jahr"},
          "mark": {"type": "line", "interpolate": "step-after", "color": "#1e1e1e", "strokeWidth": 2},
          "encoding": {
            "x": {"field": "jahr", "type": "quantitative", "scale": {"domain": [1961, 2023], "nice": false, "zero": false}},
            "y": {"field": "p", "type": "quantitative", "scale": {"domain": [601.3, 1203], "nice": false, "zero": false}}
          }
        },
        {
          "data": {"name": "glatt"},
          "mark": {"type": "line", "color": "#ee2f2f", "strokeWidth": 2},
          "encoding": {
            "x": {"field": "jahr", "type": "quantitative", "scale": {"domain": [1961, 2023], "nice": false, "zero": false}},
            "y": {"field": "p", "type": "quantitative", "scale": {"domain": [601.3, 1203], "nice": false, "zero": false}}
          }
        },
        {
          "data": {"name": "boxen"},
          "mark": {"type": "rect", "fill": "#d9d9d9", "stroke": "#3b3b3b", "strokeWidth": 3.5, "cornerRadius": 2},
          "encoding": {
            "x": {"field": "x1", "type": "quantitative", "scale": {"domain": [1961, 2023], "nice": false, "zero": false}},
            "x2": {"field": "x2"},
            "y": {"field": "oben", "type": "quantitative", "scale": {"domain": [601.3, 1203], "nice": false, "zero": false}},
            "y2": {"field": "unten"}
          }
        },
        {
          "data": {"name": "zeiger"},
          "mark": {"type": "line", "fill": "#d9d9d9", "stroke": "#3b3b3b", "strokeWidth": 3.5, "strokeJoin": "round", "strokeCap": "butt"},
          "encoding": {
            "x": {"field": "x", "type": "quantitative", "scale": {"domain": [1961, 2023], "nice": false, "zero": false}},
            "y": {"field": "y", "type": "quantitative", "scale": {"domain": [601.3, 1203], "nice": false, "zero": false}},
            "detail": {"field": "id", "type": "nominal"},
            "order": {"field": "k", "type": "quantitative"}
          }
        },
        {
          "data": {"name": "boxen"},
          "mark": {"type": "text", "fontSize": 28, "color": "#363636", "align": "center", "baseline": "alphabetic", "dx": 82.4, "dy": 29.8},
          "encoding": {
            "x": {"field": "x1", "type": "quantitative", "scale": {"domain": [1961, 2023], "nice": false, "zero": false}},
            "y": {"field": "oben", "type": "quantitative", "scale": {"domain": [601.3, 1203], "nice": false, "zero": false}},
            "text": {"field": "label"}
          }
        }
      ]
    },
    {
      "width": 1509,
      "height": 336,
      "layer": [
        {
          "data": {"name": "monat"},
          "mark": {"type": "rect", "strokeWidth": 0.8},
          "encoding": {
            "x": {"field": "jahr", "type": "ordinal", "scale": {"paddingInner": 0, "paddingOuter": 0},
                  "axis": {"title": "Hydrologisches Jahr", "values": [1961, 1965, 1970, 1975, 1980, 1985, 1990, 1995, 2000, 2005, 2010, 2015, 2020],
                           "labelAngle": 0, "labelFontSize": 22, "labelColor": "#2a2a2a", "labelPadding": 7,
                           "tickSize": 5, "tickColor": "#333333", "tickWidth": 1.5,
                           "domainColor": "#222222", "domainWidth": 2.5,
                           "titleFontSize": 21, "titleFontWeight": "normal", "titleColor": "#333333", "titlePadding": 3}},
            "y": {"field": "monat", "type": "ordinal",
                  "scale": {"domain": ["Okt", "Sep", "Aug", "Jul", "Jun", "Mai", "Apr", "Mar", "Feb", "Jan", "Dez", "Nov"], "paddingInner": 0, "paddingOuter": 0},
                  "axis": {"title": null, "labelFontSize": 22, "labelColor": "#1e1e1e", "labelPadding": 6,
                           "tickSize": 5, "tickColor": "#333333", "tickWidth": 1.5,
                           "domainColor": "#222222", "domainWidth": 2}},
            "color": {"field": "p", "type": "quantitative",
                      "scale": {"type": "linear", "interpolate": "rgb",
                                "domain": [0, 10, 17, 24, 31, 38, 45, 50, 55, 61, 67, 73, 81, 89, 97, 104, 111, 120, 133, 142, 149, 156, 166, 180, 192, 215, 235, 250, 260],
                                "range": ["#8a2a2e", "#a43a34", "#bf4e38", "#d65e39", "#e8703a", "#ee8838", "#f5a030", "#f9b42d", "#fcc82a", "#f6d52b", "#ecdd2e", "#e2e030", "#d0dc38", "#bcd640", "#a2cd48", "#8fc84a", "#78c44c", "#80c680", "#7ecbb4", "#72cbd4", "#5ccce8", "#62b0e2", "#5e7ebe", "#5b66ad", "#6a5aa8", "#8c55a3", "#b070b0", "#d8a0cc", "#f2dcec"]},
                      "legend": {"title": "p in mm", "orient": "right", "offset": 23, "padding": 10,
                                 "values": [0, 50, 100, 150, 200, 250],
                                 "labelExpr": "datum.value === 0 ? '>0' : datum.label",
                                 "gradientLength": 287, "gradientThickness": 35, "gradientStrokeWidth": 0,
                                 "labelFontSize": 17, "labelColor": "#333333", "labelOffset": 12,
                                 "titleFontSize": 22, "titleFontWeight": "normal", "titleColor": "#222222", "titlePadding": 13}},
            "stroke": {"field": "p", "type": "quantitative",
                       "scale": {"type": "linear", "interpolate": "rgb",
                                 "domain": [0, 10, 17, 24, 31, 38, 45, 50, 55, 61, 67, 73, 81, 89, 97, 104, 111, 120, 133, 142, 149, 156, 166, 180, 192, 215, 235, 250, 260],
                                 "range": ["#8a2a2e", "#a43a34", "#bf4e38", "#d65e39", "#e8703a", "#ee8838", "#f5a030", "#f9b42d", "#fcc82a", "#f6d52b", "#ecdd2e", "#e2e030", "#d0dc38", "#bcd640", "#a2cd48", "#8fc84a", "#78c44c", "#80c680", "#7ecbb4", "#72cbd4", "#5ccce8", "#62b0e2", "#5e7ebe", "#5b66ad", "#6a5aa8", "#8c55a3", "#b070b0", "#d8a0cc", "#f2dcec"]},
                       "legend": null}
          }
        },
        {
          "data": {"name": "fehlend"},
          "mark": {"type": "rect", "fill": "#ebebeb", "stroke": "#ebebeb", "strokeWidth": 0.8},
          "encoding": {
            "x": {"field": "jahr", "type": "ordinal"},
            "y": {"field": "monat", "type": "ordinal"}
          }
        }
      ]
    }
  ]
}
